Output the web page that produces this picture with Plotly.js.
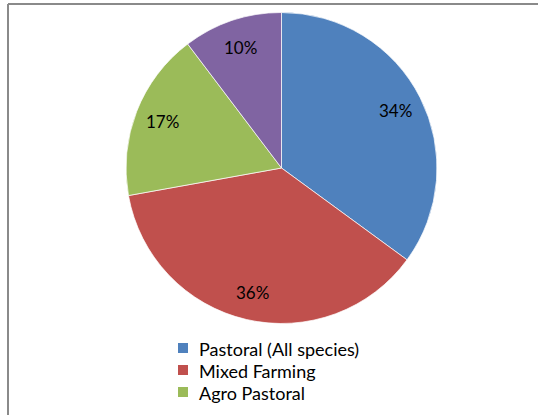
<!DOCTYPE html>
<html>
<head>
<meta charset="utf-8">
<script src="https://cdn.plot.ly/plotly-3.0.1.min.js"></script>
<style>html,body{margin:0;padding:0;background:#fff;}#chart{width:538px;height:415px;}</style>
</head>
<body>
<div id="chart"></div>
<script>
const categories = ["Pastoral (All species)", "Mixed Farming", "Agro Pastoral", "Others"];
const values = [34, 36, 17, 10];
const colors = ["#4F81BD", "#C0504D", "#9BBB59", "#8064A2"];
// legend entries that are visible in the chart area (the 4th is cut off by the frame)
const legendShown = 3;

const W = 538, H = 415;
const FONT = "Lato, 'Open Sans', sans-serif";
// pie placement (pixels)
const px0 = 126, px1 = 437, pyTop = 12, pyBot = 324;
const cx = (px0 + px1) / 2, cy = (pyTop + pyBot) / 2;
const R = Math.min(px1 - px0, pyBot - pyTop) / 2;

const trace = {
  type: "pie",
  labels: categories,
  values: values,
  sort: false,
  direction: "clockwise",
  rotation: 0,
  marker: {colors: colors, line: {color: "#ffffff", width: 0.7}},
  textinfo: "none",
  hoverinfo: "none",
  showlegend: false,
  domain: {x: [px0 / W, px1 / W], y: [(H - pyBot) / H, (H - pyTop) / H]}
};

// data labels placed at each slice's mid-angle (Excel "best fit" style)
const total = values.reduce((a, b) => a + b, 0);
let cum = 0;
const annotations = values.map((v) => {
  const mid = (cum + v / 2) / total * 2 * Math.PI;
  cum += v;
  const rr = 0.82 * R;
  return {
    xref: "paper", yref: "paper",
    x: (cx + rr * Math.sin(mid)) / W,
    y: 1 - (cy - rr * Math.cos(mid)) / H,
    text: v + "%", showarrow: false,
    xanchor: "center", yanchor: "middle",
    font: {family: FONT, size: 17, color: "#000000"}
  };
});

// legend (Excel style, bottom, vertical)
const legX = 178, legY0 = 348, legStep = 22, sq = 10;
const shapes = [
  {type: "line", xref: "paper", yref: "paper", x0: 8 / W, x1: 8 / W, y0: 0, y1: 1 - 4 / H,
   line: {color: "#8a8a8a", width: 2}},
  {type: "line", xref: "paper", yref: "paper", x0: 8 / W, x1: 1, y0: 1 - 4 / H, y1: 1 - 4 / H,
   line: {color: "#8a8a8a", width: 2}}
];
for (let i = 0; i < legendShown; i++) {
  const yc = legY0 + i * legStep;
  shapes.push({
    type: "rect", xref: "paper", yref: "paper",
    x0: legX / W, x1: (legX + sq) / W,
    y0: 1 - (yc + sq / 2) / H, y1: 1 - (yc - sq / 2) / H,
    fillcolor: colors[i], line: {width: 0}
  });
  annotations.push({
    xref: "paper", yref: "paper",
    x: (legX + 19) / W, y: 1 - (yc + 1) / H,
    xanchor: "left", yanchor: "middle",
    text: categories[i], showarrow: false,
    font: {family: FONT, size: 18, color: "#000000"}
  });
}

const layout = {
  width: W, height: H,
  margin: {l: 0, r: 0, t: 0, b: 0, autoexpand: false},
  paper_bgcolor: "#ffffff",
  showlegend: false,
  annotations: annotations,
  shapes: shapes
};

Plotly.newPlot("chart", [trace], layout, {displayModeBar: false, staticPlot: true});
</script>
</body>
</html>
